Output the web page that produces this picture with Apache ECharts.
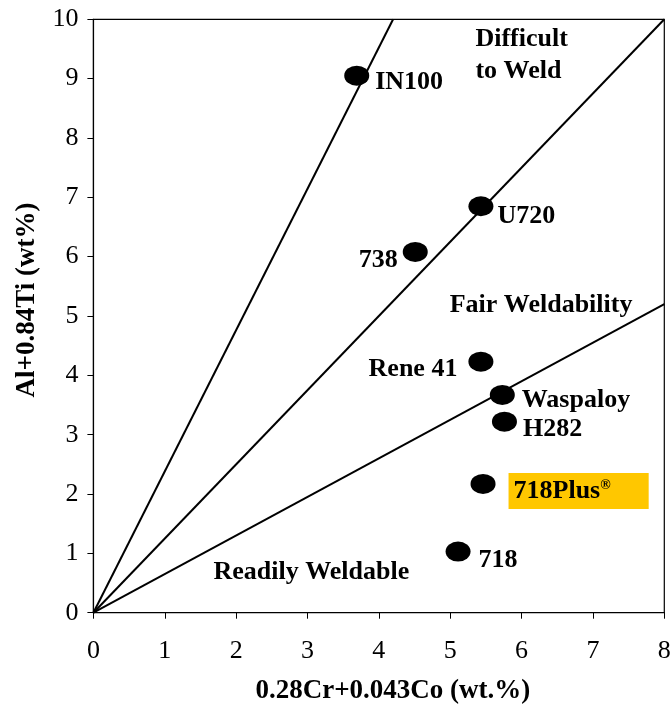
<!DOCTYPE html>
<html>
<head>
<meta charset="utf-8">
<script src="https://cdn.jsdelivr.net/npm/echarts@6/dist/echarts.min.js"></script>
<style>
html,body{margin:0;padding:0;background:#fff;}
#chart{width:672px;height:704px;}
</style>
</head>
<body>
<div id="chart"></div>
<script>
// ---- data ----
const alloyNames = ['IN100', 'U720', '738', 'Rene 41', 'Waspaloy', 'H282', '718Plus', '718'];
const alloyX = [3.69, 5.43, 4.51, 5.43, 5.73, 5.76, 5.46, 5.11];
const alloyY = [9.05, 6.85, 6.08, 4.23, 3.67, 3.22, 2.17, 1.03];

const boundaryEndX = [4.2, 8, 8];
const boundaryEndY = [10, 10, 5.2];

const regionNames = ['Difficult\nto Weld', 'Fair Weldability', 'Readily Weldable'];
const regionX = [5.36, 5.0, 1.69];
const regionY = [9.38, 5.17, 0.68];

const xTickLabels = ['0', '1', '2', '3', '4', '5', '6', '7', '8'];
const yTickLabels = ['0', '1', '2', '3', '4', '5', '6', '7', '8', '9', '10'];

const xAxisTitle = '0.28Cr+0.043Co (wt.%)';
const yAxisTitle = 'Al+0.84Ti (wt%)';

// ---- label placement (style, not data) ----
const FONT = 'Liberation Serif';
const labelPlacement = {
  'IN100':    { position: 'right', offset: [1, 7] },
  'U720':     { position: 'right', offset: [-1, 10] },
  '738':      { position: 'left',  offset: [0, 8] },
  'Rene 41':  { position: 'left',  offset: [-6, 8] },
  'Waspaloy': { position: 'right', offset: [2, 5] },
  'H282':     { position: 'right', offset: [1, 8] },
  '718Plus':  { position: 'right', offset: [8, 7] },
  '718':      { position: 'right', offset: [3, 9] }
};

const alloyData = alloyNames.map((n, i) => {
  const p = labelPlacement[n];
  const item = {
    name: n,
    value: [alloyX[i], alloyY[i]],
    label: { position: p.position, offset: p.offset, distance: 5 }
  };
  if (n === '718Plus') {
    item.label.formatter = '{t|718Plus}{s|®}';
    item.label.backgroundColor = '#FFC700';
    item.label.padding = [5, 38, 5, 5];
    item.label.rich = {
      t: { fontFamily: FONT, fontWeight: 'bold', fontSize: 26, color: '#000', lineHeight: 26 },
      s: { fontFamily: FONT, fontWeight: 'bold', fontSize: 14, color: '#000', verticalAlign: 'top', lineHeight: 14 }
    };
  }
  return item;
});

const lineSeries = boundaryEndX.map((ex, i) => ({
  type: 'line',
  data: [[0, 0], [ex, boundaryEndY[i]]],
  symbol: 'none',
  silent: true,
  lineStyle: { color: '#000', width: 2 },
  z: 2
}));

const regionData = regionNames.map((n, i) => ({ name: n, value: [regionX[i], regionY[i]] }));

const chart = echarts.init(document.getElementById('chart'));
chart.setOption({
  backgroundColor: '#fff',
  animation: false,
  grid: {
    left: 93.4, right: 7.7, top: 19.3, bottom: 91.3,
    outerBoundsMode: 'none', containLabel: false,
    show: true, borderColor: '#000', borderWidth: 1.2, backgroundColor: 'transparent'
  },
  xAxis: {
    type: 'value', min: 0, max: 8, interval: 1,
    name: xAxisTitle, nameLocation: 'middle', nameGap: 65,
    nameTextStyle: { fontFamily: FONT, fontWeight: 'bold', fontSize: 27, color: '#000', padding: [0, 0, 0, 28] },
    axisLine: { show: true, lineStyle: { color: '#000', width: 1.2 } },
    axisTick: { show: true, inside: false, length: 6, lineStyle: { color: '#000' } },
    axisLabel: {
      margin: 25, fontFamily: FONT, fontSize: 26, color: '#000',
      formatter: v => xTickLabels[Math.round(v)]
    },
    splitLine: { show: false }
  },
  yAxis: {
    type: 'value', min: 0, max: 10, interval: 1,
    name: yAxisTitle, nameLocation: 'middle', nameGap: 53,
    nameTextStyle: { fontFamily: FONT, fontWeight: 'bold', fontSize: 27, color: '#000', padding: [0, 0, 0, 32] },
    axisLine: { show: true, lineStyle: { color: '#000', width: 1.2 } },
    axisTick: { show: true, inside: false, length: 6, lineStyle: { color: '#000' } },
    axisLabel: {
      margin: 15, fontFamily: FONT, fontSize: 26, color: '#000',
      formatter: v => yTickLabels[Math.round(v)]
    },
    splitLine: { show: false }
  },
  series: [
    ...lineSeries,
    {
      type: 'scatter',
      data: alloyData,
      symbol: 'circle',
      symbolSize: [25, 20],
      itemStyle: { color: '#000', opacity: 1 },
      z: 5,
      label: {
        show: true,
        formatter: '{b}',
        fontFamily: FONT, fontWeight: 'bold', fontSize: 26, color: '#000', opacity: 1
      }
    },
    {
      type: 'scatter',
      data: regionData,
      symbolSize: 1,
      itemStyle: { color: 'rgba(0,0,0,0)' },
      silent: true,
      z: 4,
      label: {
        show: true,
        position: [0, 0],
        align: 'left',
        verticalAlign: 'middle',
        formatter: '{b}',
        fontFamily: FONT, fontWeight: 'bold', fontSize: 26, lineHeight: 32, color: '#000', opacity: 1
      }
    }
  ]
});
</script>
</body>
</html>
